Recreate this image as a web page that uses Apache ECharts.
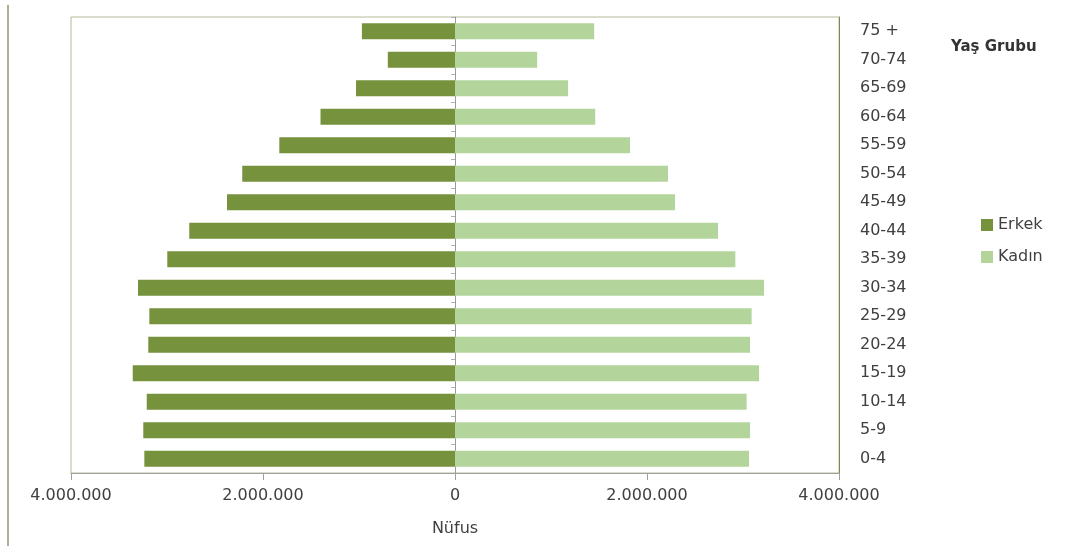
<!DOCTYPE html>
<html>
<head>
<meta charset="utf-8">
<script src="https://cdn.jsdelivr.net/npm/echarts@6/dist/echarts.min.js"></script>
<style>html,body{margin:0;padding:0;background:#fff}#c{width:1071px;height:546px}</style>
</head>
<body>
<div id="c"></div>
<script>
const ageGroups = ['0-4','5-9','10-14','15-19','20-24','25-29','30-34','35-39','40-44','45-49','50-54','55-59','60-64','65-69','70-74','75 +'];
const erkek = [3236000,3247000,3211000,3357000,3195000,3184000,3302000,2997000,2768000,2375000,2216000,1830000,1401000,1031000,700000,970000];
const kadin = [3063000,3073000,3038000,3167000,3073000,3090000,3219000,2920000,2740000,2292000,2219000,1823000,1461000,1178000,856000,1450000];
const xTicks = [-4000000,-2000000,0,2000000,4000000];
const seriesNames = ['Erkek','Kadın'];

const FONT = 'DejaVu Sans';
const fmt = v => String(Math.abs(v)).replace(/\B(?=(\d{3})+(?!\d))/g, '.');

const chart = echarts.init(document.getElementById('c'), null, {renderer:'canvas'});
chart.setOption({
  backgroundColor:'#ffffff',
  animation:false,
  textStyle:{fontFamily:FONT},
  title:{text:'Yaş Grubu', left:946, top:35, textStyle:{fontFamily:FONT,fontSize:15,fontWeight:'bold',color:'#333'}},
  legend:{
    data:seriesNames, orient:'vertical', left:976, top:212, itemWidth:12, itemHeight:12, itemGap:16,
    icon:'rect', textStyle:{fontFamily:FONT,fontSize:16,color:'#404040'}
  },
  grid:{left:71, right:232, top:17, bottom:73, show:true, borderColor:'#b5bb98', borderWidth:1, containLabel:false},
  xAxis:{
    type:'value', min:xTicks[0], max:xTicks[xTicks.length-1], interval:xTicks[1]-xTicks[0],
    name:'Nüfus', nameLocation:'middle', nameGap:48,
    nameTextStyle:{fontFamily:FONT,fontSize:16,color:'#404040'},
    axisLine:{show:true,onZero:false,lineStyle:{color:'#a0a0a0'}},
    axisTick:{show:true,length:7,lineStyle:{color:'#a0a0a0'}},
    axisLabel:{formatter:fmt,margin:15,fontFamily:FONT,fontSize:16,color:'#404040'},
    splitLine:{show:false},
    z:5
  },
  yAxis:[
    {
      type:'category', data:ageGroups, position:'left',
      axisLine:{show:true,onZero:true,lineStyle:{color:'#9a9a9a'}},
      axisTick:{show:true,length:4,lineStyle:{color:'#b0b0b0'}},
      axisLabel:{show:false}, splitLine:{show:false}
    },
    {
      type:'category', data:ageGroups, position:'right',
      axisLine:{show:true,onZero:false,lineStyle:{color:'#7d8a58'}},
      axisTick:{show:false},
      axisLabel:{show:true,margin:21,fontFamily:FONT,fontSize:16,color:'#404040',align:'left'},
      splitLine:{show:false}
    }
  ],
  series:[
    {name:seriesNames[0], type:'bar', stack:'pop', yAxisIndex:0, barWidth:16,
     data:erkek.map(v=>-v), itemStyle:{color:'#76923c'}},
    {name:seriesNames[1], type:'bar', stack:'pop', yAxisIndex:0, barWidth:16,
     data:kadin, itemStyle:{color:'#b3d49a'}}
  ],
  graphic:[
    {type:'line', shape:{x1:8,y1:5,x2:8,y2:546}, style:{stroke:'#8c9670',lineWidth:1.5}, silent:true}
  ]
});
</script>
</body>
</html>
